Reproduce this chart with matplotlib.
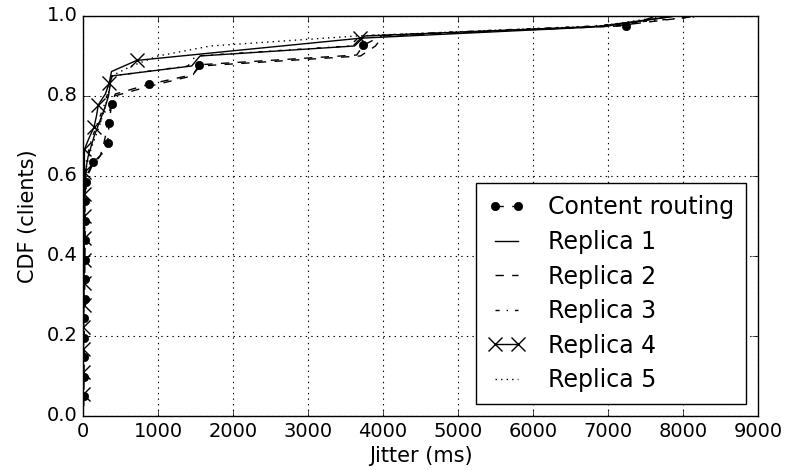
import matplotlib
matplotlib.use("Agg")
import matplotlib.pyplot as plt
import numpy as np

# jitter samples (ms) per client; the CDF is built from them
CONTENT_ROUTING = [10, 12, 13, 14, 15, 16, 17, 18, 19, 20, 21, 22, 23, 24, 25,
                   26, 27, 28, 29, 30, 31, 33, 35, 38, 70, 138, 271, 329, 340,
                   347, 365, 382, 430, 880, 1470, 1551, 3650, 3738, 3990, 7240,
                   7650]
REPLICA_1 = [0, 1, 2, 3, 4, 5, 6, 7, 8, 9, 10, 11, 12, 13, 14, 15, 16, 18, 20,
             22, 24, 26, 30, 35, 45, 70, 110, 150, 200, 250, 300, 340, 360, 380,
             1450, 1560, 3620, 3760, 7000, 7900]
REPLICA_2 = [1, 2, 3, 4, 5, 6, 7, 8, 9, 10, 11, 12, 14, 15, 17, 19, 21, 23, 26,
             29, 32, 36, 40, 60, 120, 230, 270, 300, 320, 345, 370, 420, 900,
             1450, 1560, 3700, 3900, 4000, 7100, 8200]
REPLICA_3 = [0, 1, 2, 3, 4, 5, 6, 7, 8, 9, 10, 11, 12, 13, 14, 16, 18, 20, 22,
             24, 26, 28, 30, 32, 35, 55, 90, 130, 180, 230, 280, 320, 350, 390,
             1400, 1500, 3550, 3700, 6800, 8300]
REPLICA_4 = [0, 0, 1, 2, 3, 4, 5, 6, 7, 8, 9, 10, 11, 12, 13, 14, 15, 16, 17,
             18, 19, 19, 19, 20, 80, 147, 180, 204, 300, 351, 380, 716, 2200,
             3700, 6800, 7900]
REPLICA_5 = [0, 1, 2, 3, 4, 5, 6, 7, 8, 9, 10, 11, 12, 13, 14, 15, 17, 19, 21,
             24, 27, 30, 34, 40, 50, 80, 120, 170, 220, 260, 300, 330, 360, 380,
             650, 1000, 1700, 3650, 6900, 7800]

LABELS = ["Content routing", "Replica 1", "Replica 2", "Replica 3", "Replica 4",
          "Replica 5"]
XTICKS = np.arange(0, 9001, 1000)
YTICKS = np.arange(0, 1.01, 0.2)


def cdf(samples):
    x = np.sort(np.asarray(samples, dtype=float))
    y = np.arange(1, len(x) + 1) / len(x)
    return x, y


def main():
    plt.style.use("classic")
    fig = plt.figure(figsize=(7.94, 4.70), dpi=100, facecolor="white")
    ax = fig.add_axes([0.1045, 0.1149, 0.8502, 0.8511])

    series = [CONTENT_ROUTING, REPLICA_1, REPLICA_2, REPLICA_3, REPLICA_4,
              REPLICA_5]
    styles = [
        dict(ls="--", marker="o", ms=6, markevery=slice(1, -1, 2)),
        dict(ls="-"),
        dict(ls="--"),
        dict(ls="-."),
        dict(ls="-", marker="x", ms=10, mew=1, markevery=slice(1, -1, 2)),
        dict(ls=":"),
    ]
    for data, label, st in zip(series, LABELS, styles):
        x, y = cdf(data)
        ax.plot(x, y, color="k", lw=1, label=label, **st)

    ax.set_xlim(0, 9000)
    ax.set_ylim(0, 1.0)
    ax.set_xticks(XTICKS)
    ax.set_yticks(YTICKS)
    ax.tick_params(labelsize=14)
    ax.grid(True, color="k", ls=":", lw=0.8)
    ax.set_xlabel("Jitter (ms)", fontsize=15, labelpad=4)
    ax.set_ylabel("CDF (clients)", fontsize=15, labelpad=6)

    leg = ax.legend(loc="lower right", fontsize=17, numpoints=2,
                    handlelength=1.55, handletextpad=1.0, labelspacing=0.45,
                    borderpad=0.5, fancybox=False)
    leg.get_frame().set_edgecolor("k")

    fig.savefig("out.png", dpi=100, facecolor="white")


if __name__ == "__main__":
    main()
